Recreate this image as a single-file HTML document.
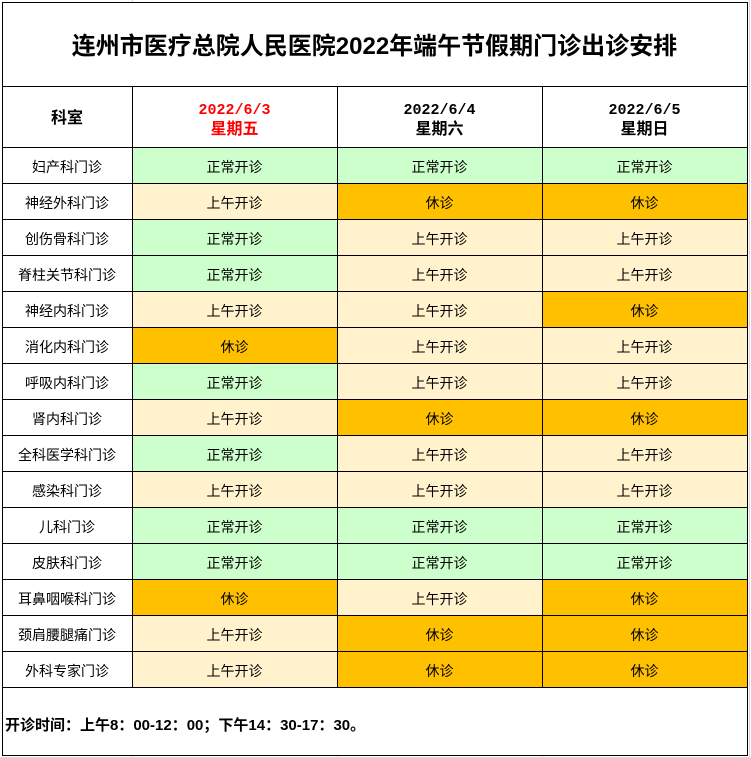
<!DOCTYPE html>
<html><head><meta charset="utf-8">
<style>
html,body{margin:0;padding:0;background:#fff;}
body{width:751px;height:758px;position:relative;overflow:hidden;font-family:"Liberation Sans","Noto Sans CJK SC",sans-serif;color:#000;}
.f{position:absolute;}
.G{background:#CCFFCC;}
.Y{background:#FFF2CC;}
.O{background:#FFC000;}
.h{position:absolute;background:#000;height:1px;}
.v{position:absolute;background:#000;width:1px;}
.t{position:absolute;text-align:center;white-space:nowrap;}
.c{font-size:14px;line-height:36px;height:36px;}
</style></head><body>
<!-- faint gridlines -->
<div class="f" style="left:749px;top:0;width:1px;height:758px;background:#d9d9d9"></div>
<div class="f" style="left:0;top:757px;width:751px;height:1px;background:#d9d9d9"></div>
<div class="f" style="left:132px;top:0;width:1px;height:2px;background:#d9d9d9"></div>
<div class="f" style="left:132px;top:756px;width:1px;height:2px;background:#d9d9d9"></div>
<div class="f" style="left:337px;top:756px;width:1px;height:2px;background:#d9d9d9"></div>
<div class="f" style="left:542px;top:756px;width:1px;height:2px;background:#d9d9d9"></div>

<div id="cells"></div>

<!-- Title -->
<div class="t" style="left:2px;width:745px;top:31px;font-size:24px;line-height:32px;font-weight:bold;">连州市医疗总院人民医院2022年端午节假期门诊出诊安排</div>

<!-- Header -->
<div class="t" style="left:2px;width:130px;top:108px;font-size:16px;line-height:22px;font-weight:bold;">科室</div>
<div class="t" style="left:132px;width:205px;top:101px;font-size:15px;line-height:19px;font-weight:bold;color:#FF0000;font-family:'Liberation Mono','Noto Sans CJK SC',monospace;">2022/6/3</div>
<div class="t" style="left:132px;width:205px;top:120px;font-size:16px;line-height:20px;font-weight:bold;color:#FF0000;">星期五</div>
<div class="t" style="left:337px;width:205px;top:101px;font-size:15px;line-height:19px;font-weight:bold;font-family:'Liberation Mono','Noto Sans CJK SC',monospace;">2022/6/4</div>
<div class="t" style="left:337px;width:205px;top:120px;font-size:16px;line-height:20px;font-weight:bold;">星期六</div>
<div class="t" style="left:542px;width:205px;top:101px;font-size:15px;line-height:19px;font-weight:bold;font-family:'Liberation Mono','Noto Sans CJK SC',monospace;">2022/6/5</div>
<div class="t" style="left:542px;width:205px;top:120px;font-size:16px;line-height:20px;font-weight:bold;">星期日</div>

<!-- Footer -->
<div class="f" style="left:5px;top:715px;font-size:15px;line-height:22px;font-weight:bold;white-space:nowrap;">开诊时间：上午8：00-12：00；下午14：30-17：30。</div>

<script>
(function(){
var rows=[
["妇产科门诊","G","G","G"],
["神经外科门诊","Y","O","O"],
["创伤骨科门诊","G","Y","Y"],
["脊柱关节科门诊","G","Y","Y"],
["神经内科门诊","Y","Y","O"],
["消化内科门诊","O","Y","Y"],
["呼吸内科门诊","G","Y","Y"],
["肾内科门诊","Y","O","O"],
["全科医学科门诊","G","Y","Y"],
["感染科门诊","Y","Y","Y"],
["儿科门诊","G","G","G"],
["皮肤科门诊","G","G","G"],
["耳鼻咽喉科门诊","O","Y","O"],
["颈肩腰腿痛门诊","Y","O","O"],
["外科专家门诊","Y","O","O"]
];
var txt={G:"正常开诊",Y:"上午开诊",O:"休诊"};
var xs=[2,132,337,542,747];
var h="";
for(var i=0;i<rows.length;i++){
  var ty=147+36*i;
  h+='<div class="t c" style="left:2px;width:130px;top:'+(ty+2)+'px;">'+rows[i][0]+'</div>';
  for(var j=1;j<=3;j++){
    var k=rows[i][j];
    h+='<div class="f '+k+'" style="left:'+(xs[j]+1)+'px;top:'+(ty+1)+'px;width:'+(xs[j+1]-xs[j]-1)+'px;height:35px;"></div>';
    h+='<div class="t c" style="left:'+xs[j]+'px;width:'+(xs[j+1]-xs[j])+'px;top:'+(ty+2)+'px;">'+txt[k]+'</div>';
  }
}
var ys=[2,86,147];
for(var m=1;m<=15;m++)ys.push(147+36*m);
ys.push(755);
for(var n=0;n<ys.length;n++){h+='<div class="h" style="left:2px;width:746px;top:'+ys[n]+'px;"></div>';}
h+='<div class="v" style="left:2px;top:2px;height:754px;"></div>';
h+='<div class="v" style="left:747px;top:2px;height:754px;"></div>';
for(var q=1;q<=3;q++){h+='<div class="v" style="left:'+xs[q]+'px;top:86px;height:602px;"></div>';}
document.getElementById("cells").innerHTML=h;
})();
</script>
</body></html>
